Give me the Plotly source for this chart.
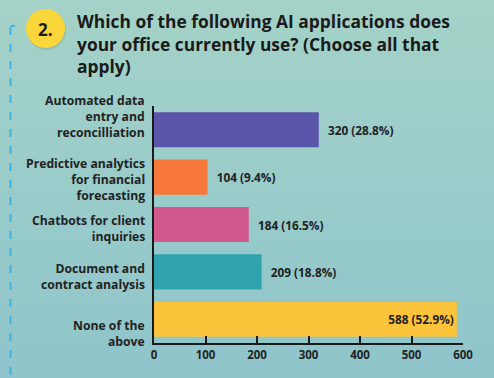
import plotly.graph_objects as go

categories = [
    "Automated data<br>entry and<br>reconcilliation",
    "Predictive analytics<br>for financial<br>forecasting",
    "Chatbots for client<br>inquiries",
    "Document and<br>contract analysis",
    "None of the<br>above",
]
counts = [320, 104, 184, 209, 588]
percents = [28.8, 9.4, 16.5, 18.8, 52.9]
bar_colors = ["#5A55A8", "#F7783A", "#D2598E", "#2FA4AE", "#FCC43A"]
x_ticks = [0, 100, 200, 300, 400, 500, 600]
label_shift = [13, -2, -4, -5, -14]   # vertical offset of category labels (px)

title_text = ("Which of the following AI applications does<br>"
              "your office currently use? (Choose all that<br>apply)")

W, H = 494, 378
L, R, T, B = 154, 31, 106, 35
pw, ph = W - L - R, H - T - B

def px_x(p):
    return (p - L) / pw

def px_y(p):
    return 1 - (p - T) / ph

positions = ["outside"] * (len(counts) - 1) + ["inside"]
labels = [("\u00a0\u00a0" if pos == "outside" else "") + f"{c} ({p}%)"
          for c, p, pos in zip(counts, percents, positions)]

fig = go.Figure(go.Bar(
    x=counts, y=categories, orientation="h",
    marker=dict(color=bar_colors, line=dict(width=0)),
    text=labels, textposition=positions, insidetextanchor="end",
    textfont=dict(family="Open Sans", size=11.8, color="#222222", weight="bold"),
    cliponaxis=False, hoverinfo="skip",
))

# background bands (vertical gradient)
top = (164, 210, 200)
bot = (143, 197, 203)
n = 24
shapes = []
for i in range(n):
    t = i / (n - 1)
    c = tuple(round(top[k] + (bot[k] - top[k]) * t) for k in range(3))
    shapes.append(dict(type="rect", xref="paper", yref="paper", layer="below",
                       x0=px_x(0), x1=px_x(W), y0=px_y(H * (i + 1) / n + 1), y1=px_y(H * i / n),
                       fillcolor=f"rgb{c}", line=dict(width=0)))
# dashed side line
shapes.append(dict(type="line", xref="paper", yref="paper", layer="below",
                   x0=px_x(10.5), x1=px_x(10.5), y0=px_y(27), y1=px_y(378),
                   line=dict(color="#3FB2E0", width=2, dash="8px,9px")))
shapes.append(dict(type="line", xref="paper", yref="paper", layer="below",
                   x0=px_x(10.5), x1=px_x(15), y0=px_y(26), y1=px_y(26),
                   line=dict(color="#3FB2E0", width=2)))
# yellow badge
shapes.append(dict(type="circle", xref="paper", yref="paper", layer="above",
                   x0=px_x(27), x1=px_x(66), y0=px_y(50), y1=px_y(11),
                   fillcolor="rgba(120,130,100,0.25)", line=dict(width=0)))
shapes.append(dict(type="circle", xref="paper", yref="paper", layer="above",
                   x0=px_x(26), x1=px_x(65), y0=px_y(48), y1=px_y(9),
                   fillcolor="#F9D73B", line=dict(width=0)))

annotations = [
    dict(text="<b>2.</b>", xref="paper", yref="paper", x=px_x(45.5), y=px_y(29),
         showarrow=False, font=dict(family="Open Sans", size=17, color="#1a1a1a"),
         xanchor="center", yanchor="middle"),
    dict(text=f"<b>{title_text}</b>", xref="paper", yref="paper", x=px_x(75), y=px_y(7),
         showarrow=False, align="left", xanchor="left", yanchor="top",
         font=dict(family="Open Sans", size=17.4, color="#1a1a1a")),
]
for cat, dy in zip(categories, label_shift):
    annotations.append(dict(
        text=f"<b>{cat}</b>", xref="paper", yref="y", x=0, y=cat,
        xanchor="right", yanchor="middle", align="right", xshift=-7, yshift=dy,
        showarrow=False, font=dict(family="Open Sans", size=12.2, color="#222222")))

fig.update_layout(
    width=W, height=H,
    margin=dict(l=L, r=R, t=T, b=B, pad=0),
    paper_bgcolor="rgb(154,204,202)", plot_bgcolor="rgba(0,0,0,0)",
    bargap=0.26, showlegend=False,
    shapes=shapes, annotations=annotations,
    xaxis=dict(range=[0, 600], tickvals=x_ticks, showgrid=False, zeroline=False,
               showline=True, linecolor="#1a1a1a", linewidth=2,
               ticks="inside", ticklen=7, tickwidth=2, tickcolor="#1a1a1a",
               tickfont=dict(family="Open Sans", size=11.5, color="#222222", weight="bold")),
    yaxis=dict(autorange="reversed", showgrid=False, zeroline=False,
               showline=True, linecolor="#1a1a1a", linewidth=2, ticks="",
               showticklabels=False),
)

fig.write_html("out.html", config={"displayModeBar": False, "staticPlot": True},
               post_script="document.body.style.margin='0';document.body.style.overflow='hidden';")
